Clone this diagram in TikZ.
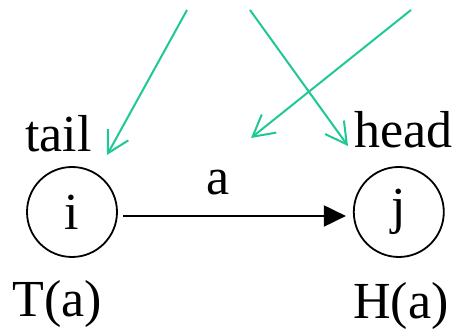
\documentclass[tikz,border=0pt]{standalone}
\usepackage{fontspec}
\setmainfont{Liberation Serif}
\usetikzlibrary{arrows.meta, positioning}
\definecolor{pointer}{RGB}{30,200,150}

\begin{document}
\begin{tikzpicture}[x=1pt,y=1pt,
  every node/.style={font=\fontsize{26}{31}\selectfont},
  vertex/.style={draw,circle,line width=.9pt,minimum size=45pt,inner sep=0pt},
  lbl/.style={inner sep=0pt},
  pointto/.style={draw=pointer,line width=1pt,
    -{Straight Barb[length=10.5pt,width=11.6pt]}}]
 \useasboundingbox (0,0) rectangle (227.5,165);
 \node[vertex] (i) at (36,59) {i};
 \node[vertex,right=117.5pt of i] (j) {j};
 \node[lbl,anchor=base west] (tail) at (12.5,89) {tail};
 \node[lbl,anchor=base west] (head) at (177,91) {head};
 \node[lbl,anchor=base west] (Ta) at (6,6.5) {T(a)};
 \node[lbl,anchor=base west] (Ha) at (176.5,5.5) {H(a)};
 \node[lbl,anchor=base] (a) at (109,67.5) {a};
 \coordinate (p1) at (93.5,160);
 \coordinate (q1) at (53.5,87.5);
 \coordinate (p2) at (125,160);
 \coordinate (q2) at (174,92);
 \coordinate (p3) at (205.5,160);
 \coordinate (q3) at (125.5,96);
 \draw[line width=1pt,shorten <=2.5pt,shorten >=3.5pt,
   -{Triangle[length=11pt,width=10.5pt]}]
   ([yshift=-2pt]i.east)--([yshift=-2pt]j.west);
 \draw[pointto] (p1)--(q1);
 \draw[pointto] (p2)--(q2);
 \draw[pointto] (p3)--(q3);
\end{tikzpicture}
\end{document}
